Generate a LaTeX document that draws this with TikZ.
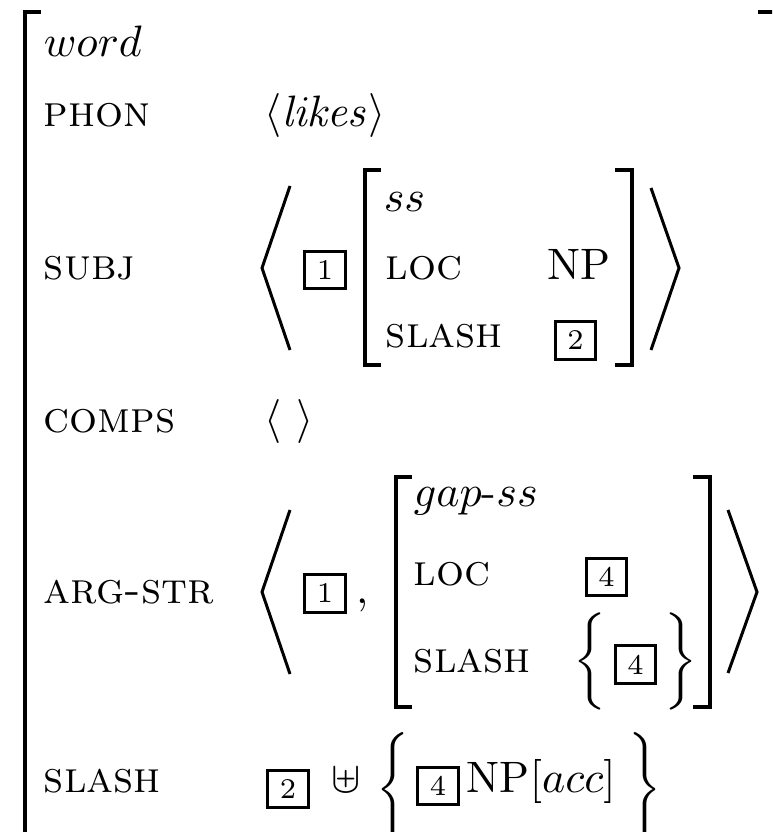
\documentclass[tikz,border=0pt]{standalone}
\usepackage{amsmath,amssymb}
\usepackage{graphicx}
\begin{document}
\begin{tikzpicture}[x=0.2273pt,y=-0.2273pt,
  lbl/.style={anchor=base west,inner sep=0pt,font=\fontsize{10}{12}\selectfont},
  brk/.style={line width=0.91pt,line cap=butt,line join=miter},
  ang/.style={line width=0.68pt,line join=miter,line cap=butt},
  tagbox/.style={draw,line width=0.68pt,inner sep=0pt,minimum width=9.1pt,minimum height=8.6pt,font=\fontsize{6.5}{7}\selectfont},
  brace/.style={inner sep=0pt,anchor=center,font=\fontsize{10}{12}\selectfont}]
\useasboundingbox (0,0) rectangle (772,832);
\clip (0,0) rectangle (772,832);
% outer brackets
\draw[brk] (41,12) -- (25,12) -- (25,840);
\draw[brk] (758,12) -- (776,12) -- (776,840);
% top rows
\node[lbl] (type) at (43,57) {$word$};
\node[lbl] (phon) at (43,127) {\textsc{phon}};
\node[lbl] (phonv) at (264,127) {$\langle \mathit{likes}\rangle$};
% SUBJ
\node[lbl] (subj) at (43,280) {\textsc{subj}};
\draw[ang] (290,186) -- (262,268) -- (290,350);
\node[tagbox] (t1a) at (325,270) {1};
\draw[brk] (381,170) -- (365,170) -- (365,365) -- (381,365);
\node[lbl] (ss) at (383,212) {$ss$};
\node[lbl] (loc1) at (385,280) {\textsc{loc}};
\node[lbl] (slash1) at (385,348) {\textsc{slash}};
\node[lbl] (np1) at (547,280) {NP};
\node[tagbox] (t2a) at (575.5,340.5) {2};
\draw[brk] (615,170) -- (632,170) -- (632,365) -- (615,365);
\draw[ang] (651,188) -- (679,268) -- (651,350);
% COMPS
\node[lbl] (comps) at (43,433) {\textsc{comps}};
\node[lbl] (cl) at (264,433) {$\langle$};
\node[lbl] (cr) at (296,433) {$\rangle$};
% ARG-STR
\node[lbl] (arg) at (43,603) {\textsc{arg-str}};
\draw[ang] (290,510) -- (262,592) -- (290,674);
\node[tagbox] (t1b) at (325,593.5) {1};
\node[lbl] (comma) at (356,603) {,};
\draw[brk] (412,477) -- (396,477) -- (396,707) -- (412,707);
\node[lbl] (gap) at (413,507) {$gap$-$ss$};
\node[lbl] (loc2) at (413,585) {\textsc{loc}};
\node[tagbox] (t4a) at (606.5,577) {4};
\node[lbl] (slash2) at (413,672) {\textsc{slash}};
\node[brace] (lb1) at (589.5,661) {\scalebox{1}[0.92]{$\bigg\{$}};
\node[tagbox] (t4b) at (635.5,664.5) {4};
\node[brace] (rb1) at (680.5,661) {\scalebox{1}[0.92]{$\bigg\}$}};
\draw[brk] (693,477) -- (710,477) -- (710,707) -- (693,707);
\draw[ang] (728,510) -- (757,592) -- (728,673);
% final SLASH
\node[lbl] (slash3) at (43,792) {\textsc{slash}};
\node[tagbox] (t2b) at (288,789) {2};
\node[lbl] (uplus) at (331,792) {$\uplus$};
\node[brace] (lb2) at (393,790) {\scalebox{1}[1.08]{$\bigg\{$}};
\node[tagbox] (t4c) at (438,786) {4};
\node[lbl] (npacc) at (466,792) {NP$[acc]$};
\node[brace] (rb2) at (645,790) {\scalebox{1}[1.08]{$\bigg\}$}};
\end{tikzpicture}
\end{document}
